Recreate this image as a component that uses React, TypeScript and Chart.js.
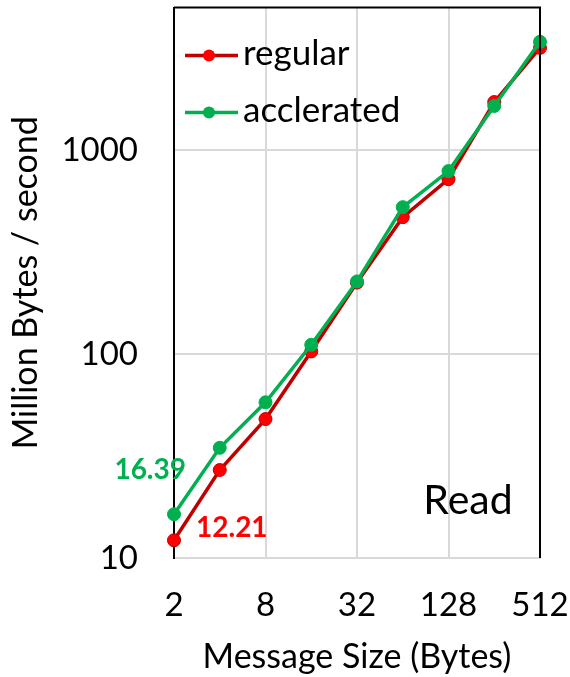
import React, { useEffect, useRef } from "react";
import { Chart, registerables } from "chart.js";

Chart.register(...registerables);

const sizes = ["2", "4", "8", "16", "32", "64", "128", "256", "512"];
const regular = [12.21, 27, 48, 103, 224, 469, 720, 1720, 3170];
const accelerated = [16.39, 34.7, 58, 111, 227, 525, 789, 1645, 3395];
const yTicks = [10, 100, 1000];
const seriesNames = ["regular", "acclerated"];
const panelLabel = "Read";

const FONT = "Lato";

const overlayPlugin = {
  id: "overlay",
  afterDatasetsDraw(chart: any) {
    const { ctx, chartArea } = chart;
    ctx.save();
    ctx.strokeStyle = "#000";
    ctx.lineWidth = 2;
    ctx.beginPath();
    ctx.moveTo(chartArea.left, chartArea.top);
    ctx.lineTo(chartArea.right, chartArea.top);
    ctx.lineTo(chartArea.right, chartArea.bottom);
    ctx.stroke();

    const entries = chart.data.datasets;
    entries.forEach((ds: any, i: number) => {
      const y = chartArea.top + 48 + i * 57;
      const x0 = chartArea.left + 11;
      ctx.strokeStyle = ds.borderColor;
      ctx.lineWidth = 3.5;
      ctx.beginPath();
      ctx.moveTo(x0, y);
      ctx.lineTo(x0 + 53, y);
      ctx.stroke();
      ctx.fillStyle = ds.pointBackgroundColor;
      ctx.beginPath();
      ctx.arc(x0 + 24, y, 6, 0, Math.PI * 2);
      ctx.fill();
      ctx.fillStyle = "#000";
      ctx.font = `35px ${FONT}`;
      ctx.textAlign = "left";
      ctx.textBaseline = "middle";
      ctx.fillText(ds.label, x0 + 58, y - 2);
    });

    const xs = chart.scales.x;
    const ys = chart.scales.y;
    const px = xs.getPixelForValue(0);
    ctx.font = `bold 28px ${FONT}`;
    ctx.textBaseline = "middle";
    ctx.fillStyle = "#00B050";
    ctx.textAlign = "right";
    ctx.fillText(String(accelerated[0]), px + 12, ys.getPixelForValue(accelerated[0]) - 44);
    ctx.fillStyle = "#FF0000";
    ctx.textAlign = "left";
    ctx.fillText(String(regular[0]), px + 22, ys.getPixelForValue(regular[0]) - 12);

    ctx.fillStyle = "#000";
    ctx.font = `41px ${FONT}`;
    ctx.textAlign = "center";
    ctx.fillText(panelLabel, chartArea.right - 72, chartArea.bottom - 57);
    ctx.restore();
  },
};

export default function App() {
  const ref = useRef<HTMLCanvasElement>(null);
  useEffect(() => {
    if (!ref.current) return;
    const chart = new Chart(ref.current, {
      type: "line",
      data: {
        labels: sizes,
        datasets: [
          {
            label: seriesNames[0],
            data: regular,
            borderColor: "#C00000",
            backgroundColor: "#FF0000",
            pointBackgroundColor: "#FF0000",
            pointBorderColor: "#C00000",
            pointBorderWidth: 1,
            pointRadius: 6.5,
            borderWidth: 3.5,
            order: 1,
          },
          {
            label: seriesNames[1],
            data: accelerated,
            borderColor: "#00B050",
            backgroundColor: "#00B050",
            pointBackgroundColor: "#00B050",
            pointBorderColor: "#00B050",
            pointBorderWidth: 1,
            pointRadius: 6.5,
            borderWidth: 3.5,
            order: 0,
          },
        ],
      },
      options: {
        animation: false,
        responsive: true,
        maintainAspectRatio: false,
        layout: { padding: { top: 7, right: 30, left: 0, bottom: 0 } },
        plugins: {
          legend: { display: false },
          tooltip: { enabled: false },
        },
        scales: {
          x: {
            type: "category",
            offset: false,
            grid: { color: "#d9d9d9", lineWidth: 2, drawTicks: false },
            border: { color: "#d9d9d9", width: 2 },
            ticks: {
              autoSkip: false,
              maxRotation: 0,
              padding: 28,
              color: "#000",
              font: { family: FONT, size: 33 },
            },
            title: {
              display: true,
              text: "Message Size (Bytes)",
              color: "#000",
              font: { family: FONT, size: 34 },
              padding: { top: 0, bottom: 0 },
            },
            afterBuildTicks: (scale: any) => {
              scale.ticks = scale.ticks.filter((t: any) => t.value % 2 === 0);
            },
            afterFit: (scale: any) => {
              scale.height = 119;
              scale.paddingLeft = 0;
              scale.paddingRight = 0;
            },
          },
          y: {
            type: "logarithmic",
            min: 10,
            max: 5000,
            grid: { color: "#d9d9d9", lineWidth: 2, drawTicks: false },
            border: { color: "#000", width: 2 },
            ticks: {
              padding: 36,
              color: "#000",
              font: { family: FONT, size: 33 },
              callback: (v: any) => String(v),
            },
            title: {
              display: true,
              text: "Million Bytes / second",
              color: "#000",
              font: { family: FONT, size: 34 },
              padding: { top: 6, bottom: 0 },
            },
            afterBuildTicks: (scale: any) => {
              scale.ticks = yTicks.map((v) => ({ value: v }));
            },
            afterFit: (scale: any) => {
              scale.width = 174;
              scale.paddingTop = 0;
              scale.paddingBottom = 0;
            },
          },
        },
      },
      plugins: [overlayPlugin],
    });
    return () => chart.destroy();
  }, []);
  return (
    <div style={{ position: "absolute", left: 0, top: 0, width: 570, height: 677, background: "#fff" }}>
      <canvas ref={ref} />
    </div>
  );
}
